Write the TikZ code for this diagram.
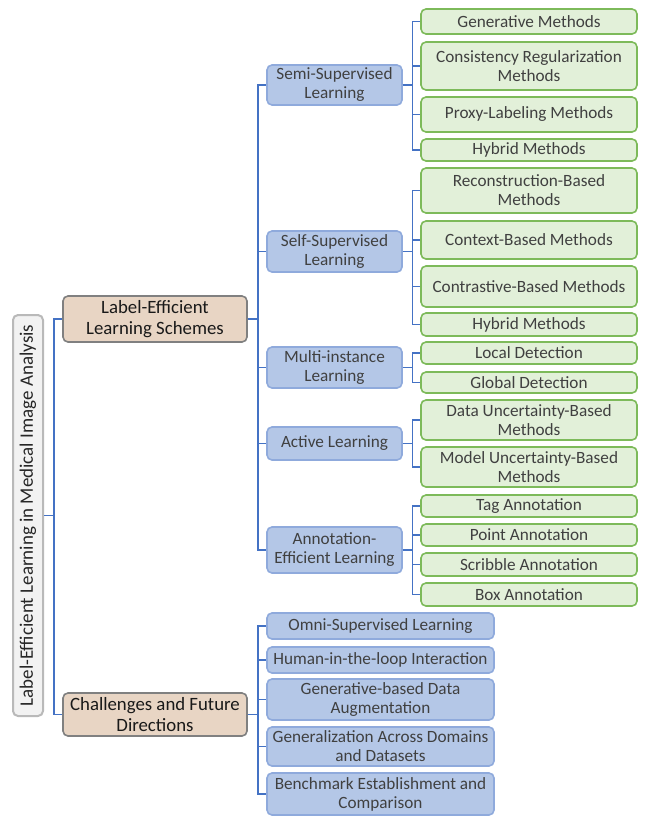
\documentclass[tikz,border=0pt]{standalone}
\usepackage{fontspec}
\setmainfont{Carlito}
\usepackage{tikz}
\definecolor{LinkBlue}{HTML}{4472C4}
\definecolor{TopicFill}{HTML}{E8D5C4}
\definecolor{SubFill}{HTML}{B4C7E7}
\definecolor{SubLine}{HTML}{8FAADC}
\definecolor{LeafFill}{HTML}{E2F0D9}
\definecolor{LeafLine}{HTML}{7DBA5A}
\definecolor{InkGray}{HTML}{404040}

\begin{document}
\begin{tikzpicture}[x=1pt,y=-1pt,
    every node/.style={font=\fontsize{17.2}{19}\selectfont,align=center,inner sep=0pt},
    root/.style={rounded corners=5pt,draw=gray!55,line width=2pt,fill=gray!10,text=black!85,
                 font=\fontsize{19}{21}\selectfont},
    topic/.style={rounded corners=5pt,draw=gray,line width=1.6pt,fill=TopicFill,text=black!90,
                  minimum width=184,font=\fontsize{18.8}{20.8}\selectfont},
    sub/.style={rounded corners=5pt,draw=SubLine,line width=1.6pt,fill=SubFill,text=InkGray,
                minimum width=135},
    wide/.style={sub,minimum width=227},
    leaf/.style={rounded corners=5pt,draw=LeafLine,line width=1.6pt,fill=LeafFill,text=InkGray,
                 minimum width=216},
    link/.style={LinkBlue,line width=1.6pt}]
    \useasboundingbox (0,0) rectangle (646,823);
    % root
    \node[root,rotate=90,minimum width=401,minimum height=30] (root) at (28,515.5)
      {Label-Efficient Learning in Medical Image Analysis};
    % first level
    \node[topic,minimum height=46] (les) at (155,319) {Label-Efficient\\Learning Schemes};
    \node[topic,minimum height=43] (cfd) at (155,714.5) {Challenges and Future\\Directions};
    % schemes
    \node[sub,minimum height=40] (semi) at (334.5,85) {Semi-Supervised\\Learning};
    \node[sub,minimum height=41] (self) at (334.5,251.5) {Self-Supervised\\Learning};
    \node[sub,minimum height=41] (multi) at (334.5,367.5) {Multi-instance\\Learning};
    \node[sub,minimum height=33] (active) at (334.5,443.5) {Active Learning};
    \node[sub,minimum height=46] (annot) at (334.5,550) {Annotation-\\Efficient Learning};
    % semi-supervised
    \node[leaf,minimum height=25] (gen) at (529,21.5) {Generative Methods};
    \node[leaf,minimum height=48] (cons) at (529,66) {Consistency Regularization\\Methods};
    \node[leaf,minimum height=35] (proxy) at (529,114.5) {Proxy-Labeling Methods};
    \node[leaf,minimum height=22] (hybA) at (529,150) {Hybrid Methods};
    % self-supervised
    \node[leaf,minimum height=45] (recon) at (529,190.5) {Reconstruction-Based\\Methods};
    \node[leaf,minimum height=38] (context) at (529,240) {Context-Based Methods};
    \node[leaf,minimum height=41] (contr) at (529,286.5) {Contrastive-Based Methods};
    \node[leaf,minimum height=23] (hybB) at (529,324.5) {Hybrid Methods};
    % multi-instance
    \node[leaf,minimum height=22] (local) at (529,353) {Local Detection};
    \node[leaf,minimum height=21] (global) at (529,382.5) {Global Detection};
    % active
    \node[leaf,minimum height=40] (datau) at (529,420) {Data Uncertainty-Based\\Methods};
    \node[leaf,minimum height=40] (modelu) at (529,467) {Model Uncertainty-Based\\Methods};
    % annotation-efficient
    \node[leaf,minimum height=22] (tag) at (529,506) {Tag Annotation};
    \node[leaf,minimum height=22] (point) at (529,535) {Point Annotation};
    \node[leaf,minimum height=23] (scrib) at (529,564.5) {Scribble Annotation};
    \node[leaf,minimum height=23] (boxa) at (529,594.5) {Box Annotation};
    % challenges
    \node[wide,minimum height=26] (omni) at (380.5,626) {Omni-Supervised Learning};
    \node[wide,minimum height=26] (human) at (380.5,660) {Human-in-the-loop Interaction};
    \node[wide,minimum height=41] (genaug) at (380.5,699.5) {Generative-based Data\\Augmentation};
    \node[wide,minimum height=39] (general) at (380.5,746.5) {Generalization Across Domains\\and Datasets};
    \node[wide,minimum height=42] (bench) at (380.5,794) {Benchmark Establishment and\\Comparison};
    % connectors
    \foreach \c in {les,cfd} \draw[link] (root.south) -- ++(10,0) |- (\c.west);
    \foreach \c in {semi,self,multi,active,annot} \draw[link] (les.east) -- ++(10,0) |- (\c.west);
    \foreach \c in {omni,human,genaug,general,bench} \draw[link] (cfd.east) -- ++(10,0) |- (\c.west);
    \foreach \c in {gen,cons,proxy,hybA} \draw[link] (semi.east) -- ++(9.5,0) |- (\c.west);
    \foreach \c in {recon,context,contr,hybB} \draw[link] (self.east) -- ++(9.5,0) |- (\c.west);
    \foreach \c in {local,global} \draw[link] (multi.east) -- ++(9.5,0) |- (\c.west);
    \foreach \c in {datau,modelu} \draw[link] (active.east) -- ++(9.5,0) |- (\c.west);
    \foreach \c in {tag,point,scrib,boxa} \draw[link] (annot.east) -- ++(9.5,0) |- (\c.west);
  \end{tikzpicture}
\end{document}
